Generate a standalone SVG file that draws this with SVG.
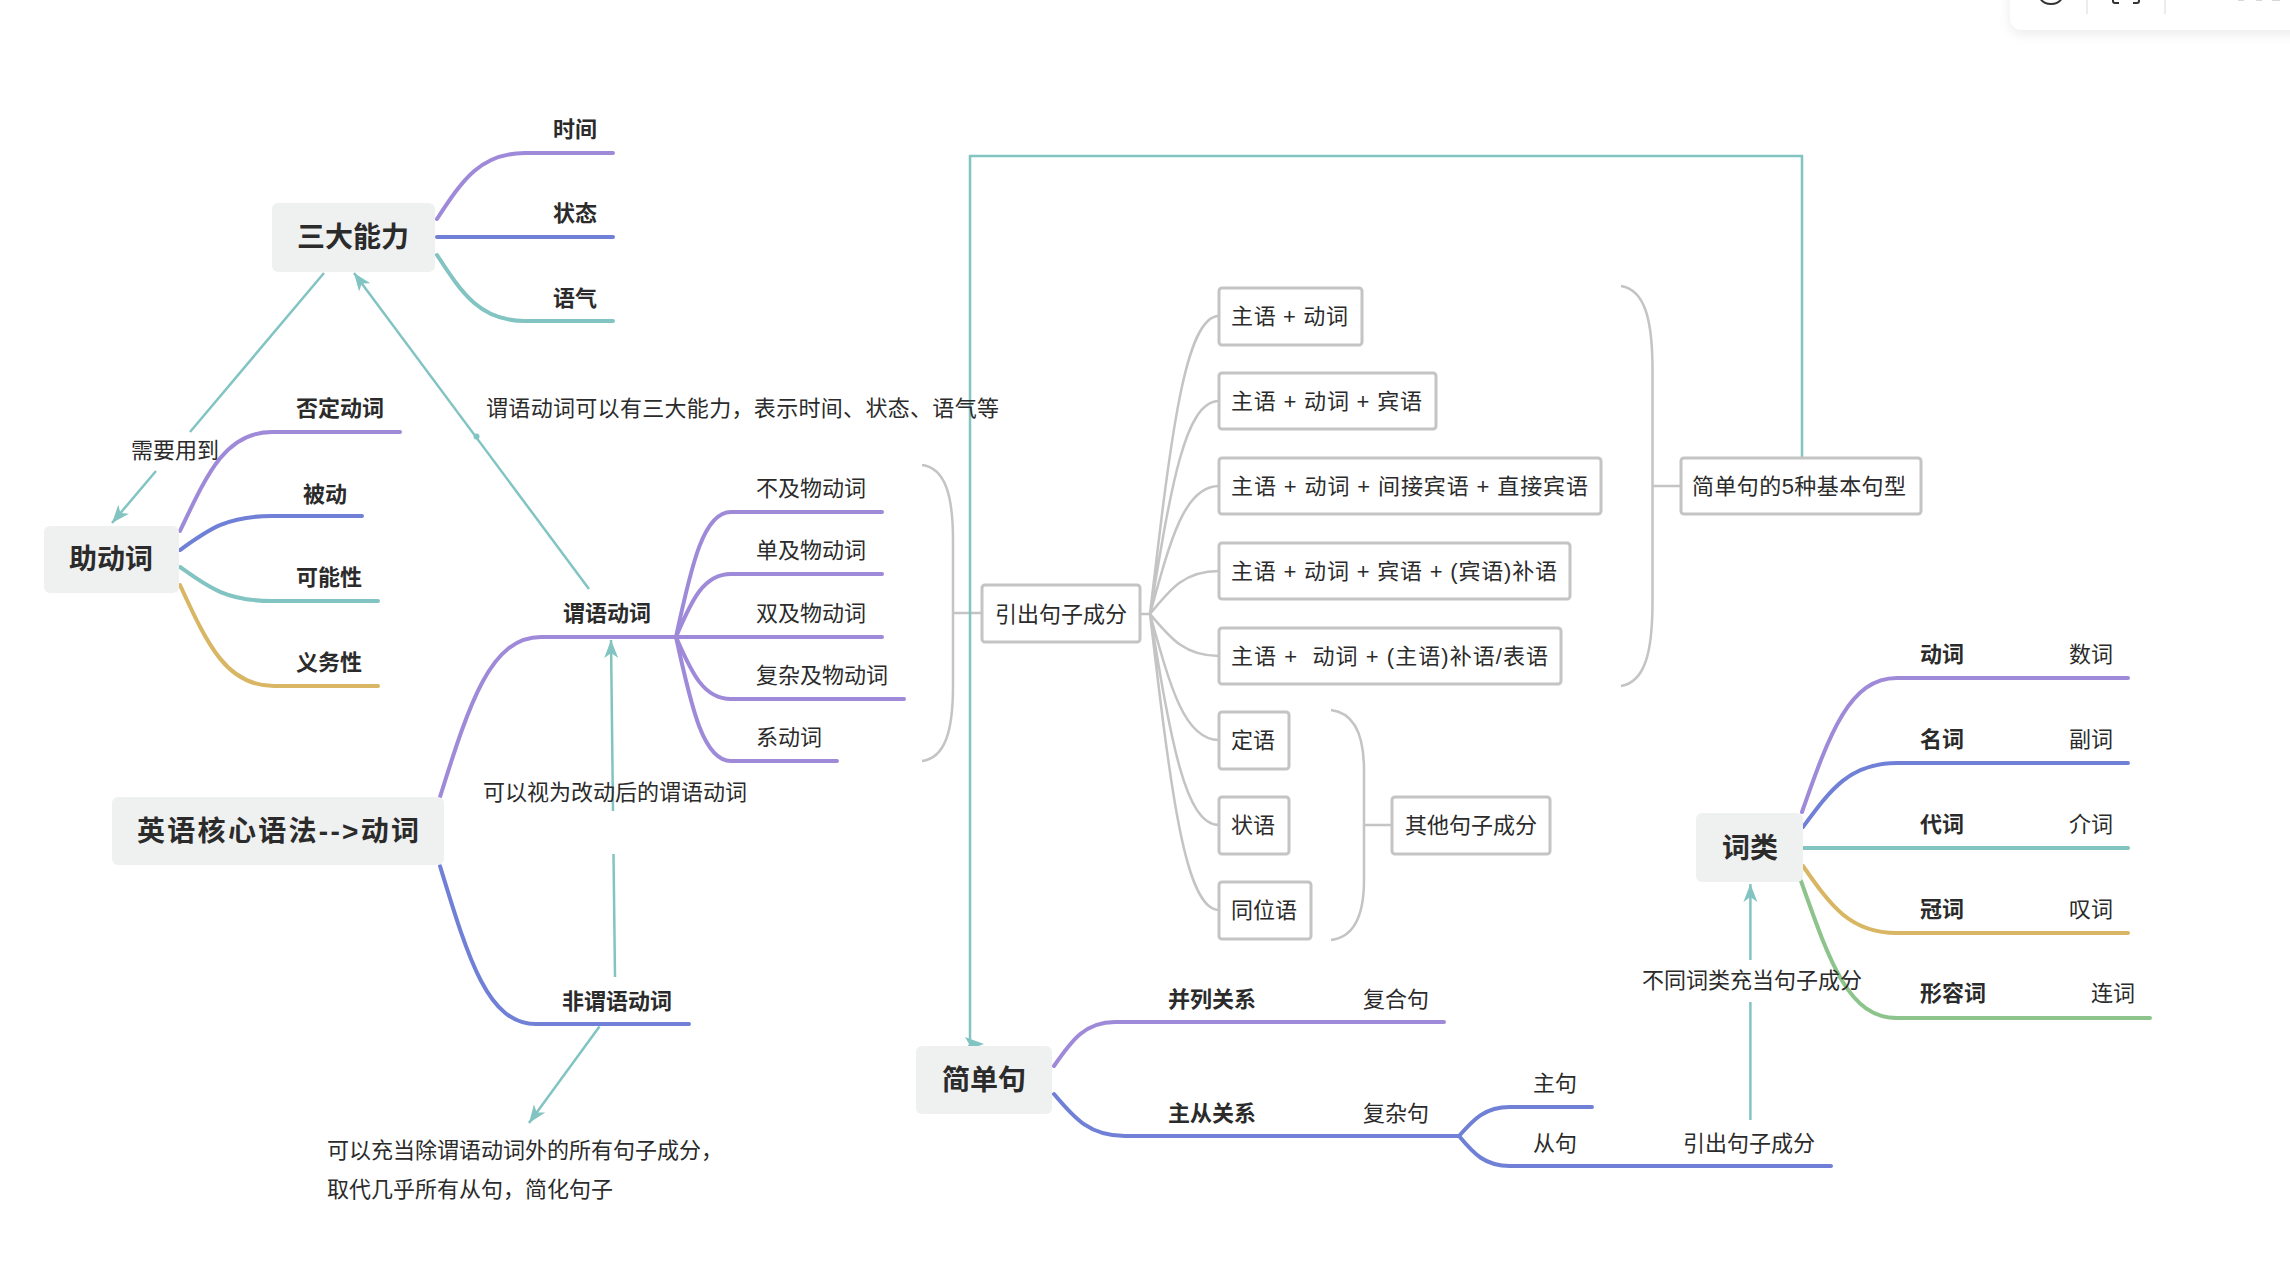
<svg xmlns="http://www.w3.org/2000/svg" width="2290" height="1276" viewBox="0 0 2290 1276">
<defs>
<style>
text{font-family:"Liberation Sans","Noto Sans CJK SC",sans-serif;fill:#2b2b2b;dominant-baseline:central;white-space:pre}
.m{font-size:28px;font-weight:700;text-anchor:middle}
.b{font-size:22px;font-weight:700}
.n{font-size:22px;font-weight:400}
.c{text-anchor:middle}
.hub{fill:#eff0f0}
.box{fill:#fff;stroke:#c4c4c4;stroke-width:3}
.br{fill:none;stroke-width:4;stroke-linecap:round}
.pu{stroke:#9f8ad9}.bl{stroke:#6f80d6}.te{stroke:#82c4c2}.go{stroke:#d8b663}.gr{stroke:#8cc48c}
.gy{fill:none;stroke:#c4c4c4;stroke-width:2.5}
.ln{fill:none;stroke:#82c4c2;stroke-width:2.5}
</style>
<marker id="arr" viewBox="0 0 20 16" refX="18" refY="8" markerWidth="20" markerHeight="16" markerUnits="userSpaceOnUse" orient="auto">
<path d="M0,1 L18,8 L0,15 L5,8 Z" fill="#82c4c2"/>
</marker>
<filter id="sh" x="-20%" y="-100%" width="140%" height="300%">
<feDropShadow dx="0" dy="4" stdDeviation="6" flood-color="#000" flood-opacity="0.08"/>
</filter>
</defs>
<rect width="2290" height="1276" fill="#fff"/>

<g id="toolbar">
<rect x="2010" y="-30" width="300" height="60" rx="12" fill="#fff" filter="url(#sh)"/>
<path d="M2040,-2 A12,10 0 0 0 2062,-2" fill="none" stroke="#333" stroke-width="2"/>
<line x1="2087" y1="0" x2="2087" y2="14" stroke="#e6e6e6" stroke-width="1.5"/>
<line x1="2165" y1="0" x2="2165" y2="14" stroke="#e6e6e6" stroke-width="1.5"/>
<path d="M2113,-2 L2113,1 Q2113,3 2115,3 L2119,3 M2139,-2 L2139,1 Q2139,3 2137,3 L2133,3" fill="none" stroke="#333" stroke-width="2"/>
<path d="M2238,0 L2244,0 M2256,0 L2262,0 M2272,0 L2280,0" stroke="#ccc" stroke-width="1.5"/>
</g>

<g id="connectors">
<!-- 三大能力 branches -->
<path class="br pu" d="M437,219 C463,179 481,153 525,153 L613,153"/>
<path class="br bl" d="M437,237 L613,237"/>
<path class="br te" d="M437,255 C463,295 481,321 525,321 L613,321"/>
<!-- 助动词 branches -->
<path class="br pu" d="M180,531 C208,472 226,432 272,432 L400,432"/>
<path class="br bl" d="M180,550 C208,530 226,516 272,516 L362,516"/>
<path class="br te" d="M180,567 C208,587 226,601 272,601 L378,601"/>
<path class="br go" d="M180,585 C208,646 227,686 274,686 L378,686"/>
<!-- root branches -->
<path class="br pu" d="M440,797 C470,701 491,637 541,637 L882,637"/>
<path class="br bl" d="M440,866 C469,961 488,1024 536,1024 L689,1024"/>
<!-- 谓语动词 sub-branches -->
<path class="br pu" d="M676,637 C692,562 704,512 731,512 L882,512"/>
<path class="br pu" d="M676,637 C692,599 704,574 731,574 L882,574"/>
<path class="br pu" d="M676,637 C692,674 704,699 731,699 L904,699"/>
<path class="br pu" d="M676,637 C692,711 704,761 731,761 L837,761"/>
<!-- brackets -->
<path class="gy" d="M922,465 C945,468 953,495 953,540 L953,686 C953,731 945,758 922,761 M953,613 L982,613"/>
<path class="gy" d="M1621,286 C1645,290 1652.5,320 1652.5,370 L1652.5,602 C1652.5,652 1645,682 1621,686 M1652.5,486 L1681,486"/>
<path class="gy" d="M1331,710 C1355,713 1364,735 1364,770 L1364,880 C1364,915 1355,937 1331,940 M1364,825 L1392,825"/>
<!-- 引出句子成分 fan -->
<path class="gy" d="M1140,614 L1150,614 M1150,614 C1171,435 1185,316 1219,316 M1150,614 C1171,486 1185,401 1219,401 M1150,614 C1171,537 1185,486 1219,486 M1150,614 C1171,588 1185,571 1219,571 M1150,614 C1171,639 1185,656 1219,656 M1150,614 C1171,690 1185,740 1219,740 M1150,614 C1171,741 1185,825 1219,825 M1150,614 C1171,792 1185,910 1219,910"/>
<!-- 简单句 branches -->
<path class="br pu" d="M1054,1066 C1072,1040 1085,1022 1115,1022 L1444,1022"/>
<path class="br bl" d="M1054,1094 C1075,1119 1090,1136 1125,1136 L1459,1136"/>
<path class="br bl" d="M1459,1136 C1474,1119 1485,1107 1510,1107 L1592,1107"/>
<path class="br bl" d="M1459,1136 C1474,1154 1485,1166 1510,1166 L1831,1166"/>
<!-- 词类 branches -->
<path class="br pu" d="M1802,812 C1830,732 1850,678 1897,678 L2128,678"/>
<path class="br bl" d="M1803,827 C1831,789 1850,763 1897,763 L2128,763"/>
<path class="br te" d="M1803,848 L2128,848"/>
<path class="br go" d="M1803,866 C1831,906 1850,933 1897,933 L2128,933"/>
<path class="br gr" d="M1801,881 C1830,963 1849,1018 1897,1018 L2150,1018"/>
<!-- teal relation lines -->
<path class="ln" d="M324,273 L190,432"/>
<path class="ln" d="M156,471 L112,523" marker-end="url(#arr)"/>
<path class="ln" d="M589,589 L354,273" marker-end="url(#arr)"/>
<circle cx="476.5" cy="436.5" r="3" fill="#82c4c2"/>
<path class="ln" d="M615,977 L613.5,854"/>
<path class="ln" d="M613,811 L611,640" marker-end="url(#arr)"/>
<path class="ln" d="M599.5,1026.5 L529,1123" marker-end="url(#arr)"/>
<path class="ln" d="M1802,458 L1802,156 L970,156 L970,1042"/>
<path d="M984,1044 L965,1037 L969,1044 L965,1051 Z" fill="#82c4c2"/>
<path class="ln" d="M1750.4,1120 L1750.4,1002"/>
<path class="ln" d="M1750.4,960 L1750.4,884" marker-end="url(#arr)"/>
<text class="n c" x="175" y="450">需要用到</text>
<text class="n" x="486" y="408" textLength="513">谓语动词可以有三大能力，表示时间、状态、语气等</text>
<text class="n c" x="615" y="792">可以视为改动后的谓语动词</text>
<text class="n c" x="1752" y="980">不同词类充当句子成分</text>
</g>

<g id="node-root"><rect class="hub" x="112" y="797" width="332" height="68" rx="6"/><text class="m" x="278" y="831" textLength="282">英语核心语法-->动词</text></g>
<g id="node-sandanengli"><rect class="hub" x="272" y="203" width="163" height="69" rx="6"/><text class="m" x="353" y="237">三大能力</text></g>
<g id="node-shijian"><text class="b c" x="575" y="129">时间</text></g>
<g id="node-zhuangtai"><text class="b c" x="575" y="213">状态</text></g>
<g id="node-yuqi"><text class="b c" x="575" y="298">语气</text></g>
<g id="node-zhudongci"><rect class="hub" x="44" y="526" width="135" height="67" rx="6"/><text class="m" x="111" y="559">助动词</text></g>
<g id="node-fouding"><text class="b c" x="340" y="408">否定动词</text></g>
<g id="node-beidong"><text class="b c" x="325" y="494">被动</text></g>
<g id="node-kenengxing"><text class="b c" x="329" y="577">可能性</text></g>
<g id="node-yiwuxing"><text class="b c" x="329" y="662">义务性</text></g>
<g id="node-weiyu"><text class="b c" x="607" y="613">谓语动词</text></g>
<g id="node-bujiwu"><text class="n" x="756" y="488">不及物动词</text></g>
<g id="node-danjiwu"><text class="n" x="756" y="550">单及物动词</text></g>
<g id="node-shuangjiwu"><text class="n" x="756" y="613">双及物动词</text></g>
<g id="node-fuzajiwu"><text class="n" x="756" y="675">复杂及物动词</text></g>
<g id="node-xidongci"><text class="n" x="756" y="737">系动词</text></g>
<g id="node-feiweiyu"><text class="b c" x="617" y="1001">非谓语动词</text></g>
<g id="node-note"><text class="n" x="327" y="1150">可以充当除谓语动词外的所有句子成分，</text><text class="n" x="327" y="1189">取代几乎所有从句，简化句子</text></g>
<g id="node-yinchu"><rect class="box" x="982" y="585" width="158" height="57" rx="3"/><text class="n c" x="1061" y="614">引出句子成分</text></g>
<g id="node-p1"><rect class="box" x="1219" y="288" width="143" height="57" rx="3"/><text class="n" x="1231" y="316" textLength="117">主语 + 动词</text></g>
<g id="node-p2"><rect class="box" x="1219" y="373" width="217" height="56" rx="3"/><text class="n" x="1231" y="401" textLength="191">主语 + 动词 + 宾语</text></g>
<g id="node-p3"><rect class="box" x="1219" y="458" width="382" height="56" rx="3"/><text class="n" x="1231" y="486" textLength="357">主语 + 动词 + 间接宾语 + 直接宾语</text></g>
<g id="node-p4"><rect class="box" x="1219" y="543" width="351" height="56" rx="3"/><text class="n" x="1231" y="571" textLength="326">主语 + 动词 + 宾语 + (宾语)补语</text></g>
<g id="node-p5"><rect class="box" x="1219" y="628" width="342" height="56" rx="3"/><text class="n" x="1231" y="656" textLength="317">主语 +  动词 + (主语)补语/表语</text></g>
<g id="node-dingyu"><rect class="box" x="1219" y="712" width="70" height="57" rx="3"/><text class="n" x="1231" y="740">定语</text></g>
<g id="node-zhuangyu"><rect class="box" x="1219" y="797" width="70" height="57" rx="3"/><text class="n" x="1231" y="825">状语</text></g>
<g id="node-tongweiyu"><rect class="box" x="1219" y="882" width="92" height="57" rx="3"/><text class="n" x="1231" y="910">同位语</text></g>
<g id="node-qita"><rect class="box" x="1392" y="797" width="158" height="57" rx="3"/><text class="n c" x="1471" y="825">其他句子成分</text></g>
<g id="node-jibenjuxing"><rect class="box" x="1681" y="458" width="240" height="56" rx="3"/><text class="n" x="1692" y="486" textLength="214">简单句的5种基本句型</text></g>
<g id="node-jiandanju"><rect class="hub" x="916" y="1046" width="136" height="68" rx="6"/><text class="m" x="984" y="1080">简单句</text></g>
<g id="node-binglie"><text class="b c" x="1212" y="999">并列关系</text><text class="n c" x="1396" y="999">复合句</text></g>
<g id="node-zhucong"><text class="b c" x="1212" y="1113">主从关系</text><text class="n c" x="1396" y="1113">复杂句</text></g>
<g id="node-zhuju"><text class="n c" x="1555" y="1083">主句</text></g>
<g id="node-congju"><text class="n c" x="1555" y="1143">从句</text><text class="n c" x="1749" y="1143">引出句子成分</text></g>
<g id="node-cilei"><rect class="hub" x="1696" y="813" width="107" height="69" rx="6"/><text class="m" x="1750" y="848">词类</text></g>
<g id="node-dongci"><text class="b" x="1920" y="654">动词</text><text class="n c" x="2091" y="654">数词</text></g>
<g id="node-mingci"><text class="b" x="1920" y="739">名词</text><text class="n c" x="2091" y="739">副词</text></g>
<g id="node-daici"><text class="b" x="1920" y="824">代词</text><text class="n c" x="2091" y="824">介词</text></g>
<g id="node-guanci"><text class="b" x="1920" y="909">冠词</text><text class="n c" x="2091" y="909">叹词</text></g>
<g id="node-xingrongci"><text class="b" x="1920" y="993">形容词</text><text class="n c" x="2113" y="993">连词</text></g>
</svg>
